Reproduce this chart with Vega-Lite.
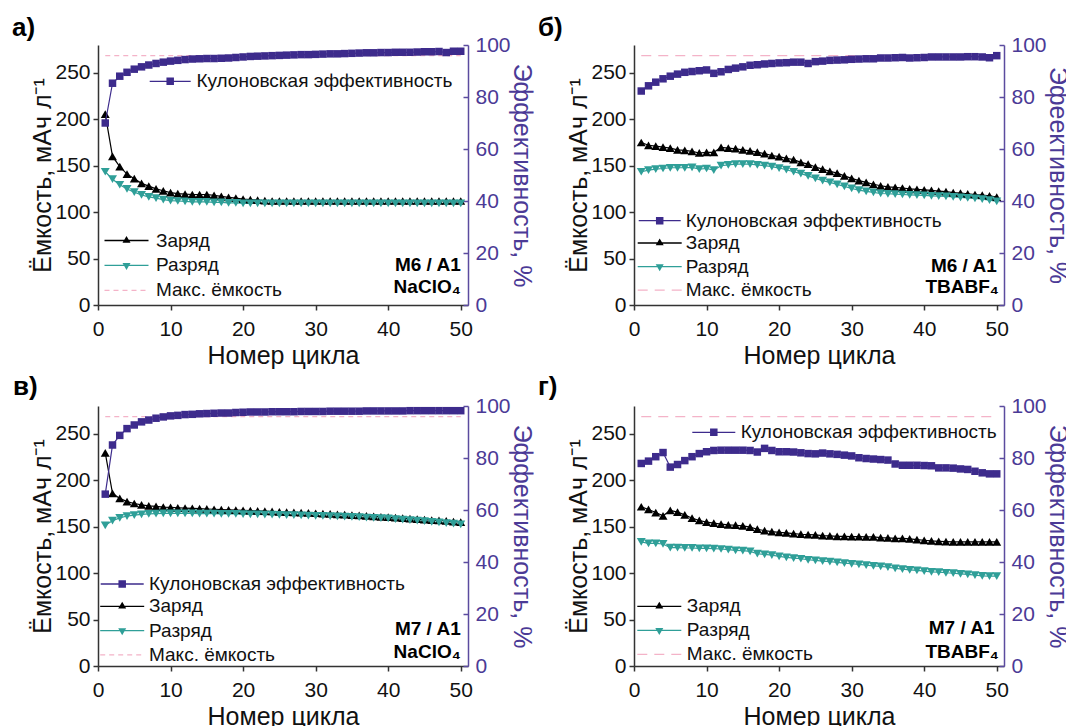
{
  "$schema": "https://vega.github.io/schema/vega-lite/v6.json",
  "padding": {"left": 12, "top": 15, "right": 0, "bottom": 0},
  "background": "white",
  "columns": 2,
  "spacing": {"row": 101, "column": 166},
  "bounds": "flush",
  "datasets": {
    "mx": [{"c": 1, "v": 268.5}, {"c": 50, "v": 268.5}],
    "cyc": [
      {"p":"a","c":1,"Заряд":205.5,"Разряд":143.5,"eff":70},
      {"p":"a","c":2,"Заряд":160,"Разряд":135.5,"eff":85.3},
      {"p":"a","c":3,"Заряд":149,"Разряд":129.5,"eff":88},
      {"p":"a","c":4,"Заряд":141,"Разряд":125,"eff":89.5},
      {"p":"a","c":5,"Заряд":136,"Разряд":121.5,"eff":90.7},
      {"p":"a","c":6,"Заряд":131,"Разряд":118.5,"eff":91.6},
      {"p":"a","c":7,"Заряд":128,"Разряд":116.5,"eff":92.3},
      {"p":"a","c":8,"Заряд":125,"Разряд":115,"eff":92.9},
      {"p":"a","c":9,"Заряд":123,"Разряд":113.5,"eff":93.4},
      {"p":"a","c":10,"Заряд":121,"Разряд":112.5,"eff":93.8},
      {"p":"a","c":11,"Заряд":120,"Разряд":112,"eff":94.1},
      {"p":"a","c":12,"Заряд":119.5,"Разряд":111.5,"eff":94.4},
      {"p":"a","c":13,"Заряд":119,"Разряд":111,"eff":94.6},
      {"p":"a","c":14,"Заряд":119,"Разряд":111,"eff":94.7},
      {"p":"a","c":15,"Заряд":119,"Разряд":111,"eff":94.8},
      {"p":"a","c":16,"Заряд":118,"Разряд":110.5,"eff":94.8},
      {"p":"a","c":17,"Заряд":117,"Разряд":110.5,"eff":94.9},
      {"p":"a","c":18,"Заряд":116,"Разряд":110,"eff":95},
      {"p":"a","c":19,"Заряд":115,"Разряд":110,"eff":95.2},
      {"p":"a","c":20,"Заряд":114,"Разряд":109.5,"eff":95.4},
      {"p":"a","c":21,"Заряд":113.5,"Разряд":109.5,"eff":95.6},
      {"p":"a","c":22,"Заряд":113,"Разряд":109.5,"eff":95.7},
      {"p":"a","c":23,"Заряд":112.5,"Разряд":109.5,"eff":95.8},
      {"p":"a","c":24,"Заряд":112,"Разряд":109.5,"eff":95.9},
      {"p":"a","c":25,"Заряд":112,"Разряд":109.5,"eff":96},
      {"p":"a","c":26,"Заряд":112,"Разряд":109.5,"eff":96.1},
      {"p":"a","c":27,"Заряд":112,"Разряд":109.5,"eff":96.2},
      {"p":"a","c":28,"Заряд":112,"Разряд":109.5,"eff":96.3},
      {"p":"a","c":29,"Заряд":112,"Разряд":109.5,"eff":96.3},
      {"p":"a","c":30,"Заряд":112,"Разряд":109.5,"eff":96.4},
      {"p":"a","c":31,"Заряд":112,"Разряд":109.5,"eff":96.5},
      {"p":"a","c":32,"Заряд":112,"Разряд":109.5,"eff":96.6},
      {"p":"a","c":33,"Заряд":112,"Разряд":109.5,"eff":96.6},
      {"p":"a","c":34,"Заряд":112,"Разряд":109.5,"eff":96.7},
      {"p":"a","c":35,"Заряд":112,"Разряд":109.5,"eff":96.8},
      {"p":"a","c":36,"Заряд":112,"Разряд":109.5,"eff":96.9},
      {"p":"a","c":37,"Заряд":112,"Разряд":109.5,"eff":97},
      {"p":"a","c":38,"Заряд":112,"Разряд":109.5,"eff":97},
      {"p":"a","c":39,"Заряд":112,"Разряд":109.5,"eff":97.1},
      {"p":"a","c":40,"Заряд":112,"Разряд":109.5,"eff":97.1},
      {"p":"a","c":41,"Заряд":112,"Разряд":109.5,"eff":97.2},
      {"p":"a","c":42,"Заряд":112,"Разряд":109.5,"eff":97.2},
      {"p":"a","c":43,"Заряд":112,"Разряд":109.5,"eff":97.2},
      {"p":"a","c":44,"Заряд":112,"Разряд":109.5,"eff":97.3},
      {"p":"a","c":45,"Заряд":112,"Разряд":109.5,"eff":97.4},
      {"p":"a","c":46,"Заряд":112,"Разряд":109.5,"eff":97.4},
      {"p":"a","c":47,"Заряд":112,"Разряд":109.5,"eff":97.5},
      {"p":"a","c":48,"Заряд":112,"Разряд":109.5,"eff":97.1},
      {"p":"a","c":49,"Заряд":112,"Разряд":109.5,"eff":97.6},
      {"p":"a","c":50,"Заряд":112,"Разряд":109.5,"eff":97.6},
      {"p":"b","c":1,"Заряд":175,"Разряд":143.5,"eff":82.3},
      {"p":"b","c":2,"Заряд":172,"Разряд":145.3,"eff":84.3},
      {"p":"b","c":3,"Заряд":171,"Разряд":146.4,"eff":85.7},
      {"p":"b","c":4,"Заряд":170,"Разряд":147,"eff":87},
      {"p":"b","c":5,"Заряд":169,"Разряд":147.8,"eff":88},
      {"p":"b","c":6,"Заряд":167,"Разряд":147.8,"eff":88.8},
      {"p":"b","c":7,"Заряд":166.5,"Разряд":147.8,"eff":89.5},
      {"p":"b","c":8,"Заряд":165.5,"Разряд":148.2,"eff":89.8},
      {"p":"b","c":9,"Заряд":163.7,"Разряд":146.4,"eff":90.1},
      {"p":"b","c":10,"Заряд":164.4,"Разряд":147,"eff":90.4},
      {"p":"b","c":11,"Заряд":164.4,"Разряд":145.3,"eff":89.1},
      {"p":"b","c":12,"Заряд":169.8,"Разряд":150,"eff":89.7},
      {"p":"b","c":13,"Заряд":169,"Разряд":151,"eff":90.6},
      {"p":"b","c":14,"Заряд":168.3,"Разряд":151.8,"eff":91.1},
      {"p":"b","c":15,"Заряд":167,"Разряд":151.8,"eff":91.6},
      {"p":"b","c":16,"Заряд":166,"Разряд":151.8,"eff":92.2},
      {"p":"b","c":17,"Заряд":164.7,"Разряд":151,"eff":92.4},
      {"p":"b","c":18,"Заряд":163,"Разряд":150,"eff":92.7},
      {"p":"b","c":19,"Заряд":161,"Разряд":149,"eff":92.9},
      {"p":"b","c":20,"Заряд":159.7,"Разряд":147.5,"eff":93.1},
      {"p":"b","c":21,"Заряд":158,"Разряд":145.7,"eff":93.2},
      {"p":"b","c":22,"Заряд":156.5,"Разряд":143.5,"eff":93.4},
      {"p":"b","c":23,"Заряд":153.6,"Разряд":141.4,"eff":93.4},
      {"p":"b","c":24,"Заряд":151.8,"Разряд":139,"eff":92.9},
      {"p":"b","c":25,"Заряд":148.6,"Разряд":136.3,"eff":93.6},
      {"p":"b","c":26,"Заряд":146.4,"Разряд":134,"eff":93.8},
      {"p":"b","c":27,"Заряд":144,"Разряд":132,"eff":94.1},
      {"p":"b","c":28,"Заряд":142,"Разряд":129.9,"eff":94.2},
      {"p":"b","c":29,"Заряд":139,"Разряд":127.7,"eff":94.3},
      {"p":"b","c":30,"Заряд":136.3,"Разряд":125.5,"eff":94.5},
      {"p":"b","c":31,"Заряд":134,"Разряд":123.7,"eff":94.6},
      {"p":"b","c":32,"Заряд":132,"Разряд":122.3,"eff":94.7},
      {"p":"b","c":33,"Заряд":130,"Разряд":121.2,"eff":94.7},
      {"p":"b","c":34,"Заряд":128.4,"Разряд":120.1,"eff":95},
      {"p":"b","c":35,"Заряд":127.3,"Разряд":119.8,"eff":95},
      {"p":"b","c":36,"Заряд":126.6,"Разряд":119.4,"eff":95.1},
      {"p":"b","c":37,"Заряд":126,"Разряд":119,"eff":95.2},
      {"p":"b","c":38,"Заряд":125,"Разряд":118.7,"eff":95},
      {"p":"b","c":39,"Заряд":124.5,"Разряд":118.3,"eff":95.1},
      {"p":"b","c":40,"Заряд":124,"Разряд":118,"eff":95.2},
      {"p":"b","c":41,"Заряд":123.4,"Разряд":117.6,"eff":95.4},
      {"p":"b","c":42,"Заряд":122.7,"Разряд":117.3,"eff":95.4},
      {"p":"b","c":43,"Заряд":122,"Разряд":116.9,"eff":95.4},
      {"p":"b","c":44,"Заряд":121,"Разряд":116.5,"eff":95.4},
      {"p":"b","c":45,"Заряд":120.5,"Разряд":115.8,"eff":95.4},
      {"p":"b","c":46,"Заряд":119.8,"Разряд":115.4,"eff":95.5},
      {"p":"b","c":47,"Заряд":119,"Разряд":114.7,"eff":95.5},
      {"p":"b","c":48,"Заряд":118.3,"Разряд":114,"eff":95.4},
      {"p":"b","c":49,"Заряд":117.6,"Разряд":113,"eff":95.1},
      {"p":"b","c":50,"Заряд":116.2,"Разряд":111.5,"eff":95.9},
      {"p":"c","c":1,"Заряд":229.5,"Разряд":151.5,"eff":66.1},
      {"p":"c","c":2,"Заряд":186,"Разряд":156.5,"eff":85},
      {"p":"c","c":3,"Заряд":180.5,"Разряд":159.5,"eff":88.7},
      {"p":"c","c":4,"Заряд":177,"Разряд":161.5,"eff":91.3},
      {"p":"c","c":5,"Заряд":175,"Разряд":162.5,"eff":92.7},
      {"p":"c","c":6,"Заряд":173.5,"Разряд":163.3,"eff":93.9},
      {"p":"c","c":7,"Заряд":172.5,"Разряд":163.8,"eff":94.6},
      {"p":"c","c":8,"Заряд":171.8,"Разряд":164.1,"eff":95.3},
      {"p":"c","c":9,"Заряд":171.2,"Разряд":164.3,"eff":95.8},
      {"p":"c","c":10,"Заряд":170.8,"Разряд":164.4,"eff":96.2},
      {"p":"c","c":11,"Заряд":170.4,"Разряд":164.4,"eff":96.4},
      {"p":"c","c":12,"Заряд":170,"Разряд":164.4,"eff":96.7},
      {"p":"c","c":13,"Заряд":169.7,"Разряд":164.3,"eff":96.8},
      {"p":"c","c":14,"Заряд":169.4,"Разряд":164.2,"eff":97},
      {"p":"c","c":15,"Заряд":169.1,"Разряд":164.1,"eff":97.1},
      {"p":"c","c":16,"Заряд":168.8,"Разряд":164,"eff":97.2},
      {"p":"c","c":17,"Заряд":168.5,"Разряд":163.9,"eff":97.3},
      {"p":"c","c":18,"Заряд":168.2,"Разряд":163.8,"eff":97.3},
      {"p":"c","c":19,"Заряд":167.9,"Разряд":163.7,"eff":97.5},
      {"p":"c","c":20,"Заряд":167.6,"Разряд":163.6,"eff":97.6},
      {"p":"c","c":21,"Заряд":167.3,"Разряд":163.4,"eff":97.7},
      {"p":"c","c":22,"Заряд":167,"Разряд":163.3,"eff":97.7},
      {"p":"c","c":23,"Заряд":166.7,"Разряд":163.1,"eff":97.7},
      {"p":"c","c":24,"Заряд":166.4,"Разряд":163,"eff":97.8},
      {"p":"c","c":25,"Заряд":166.1,"Разряд":162.8,"eff":97.8},
      {"p":"c","c":26,"Заряд":165.8,"Разряд":162.6,"eff":97.8},
      {"p":"c","c":27,"Заряд":165.5,"Разряд":162.4,"eff":97.8},
      {"p":"c","c":28,"Заряд":165.2,"Разряд":162.2,"eff":97.9},
      {"p":"c","c":29,"Заряд":164.9,"Разряд":162,"eff":97.9},
      {"p":"c","c":30,"Заряд":164.5,"Разряд":161.8,"eff":97.9},
      {"p":"c","c":31,"Заряд":164.1,"Разряд":161.6,"eff":97.9},
      {"p":"c","c":32,"Заряд":163.7,"Разряд":161.3,"eff":98},
      {"p":"c","c":33,"Заряд":163.3,"Разряд":161.1,"eff":98},
      {"p":"c","c":34,"Заряд":162.9,"Разряд":160.8,"eff":98},
      {"p":"c","c":35,"Заряд":162.5,"Разряд":160.5,"eff":98},
      {"p":"c","c":36,"Заряд":162.1,"Разряд":160.2,"eff":98},
      {"p":"c","c":37,"Заряд":161.7,"Разряд":159.9,"eff":98.1},
      {"p":"c","c":38,"Заряд":161.2,"Разряд":159.6,"eff":98.1},
      {"p":"c","c":39,"Заряд":160.7,"Разряд":159.3,"eff":98.1},
      {"p":"c","c":40,"Заряд":160.2,"Разряд":159,"eff":98.1},
      {"p":"c","c":41,"Заряд":159.7,"Разряд":158.3,"eff":98.1},
      {"p":"c","c":42,"Заряд":159.2,"Разряд":157.7,"eff":98.1},
      {"p":"c","c":43,"Заряд":158.7,"Разряд":157.1,"eff":98.2},
      {"p":"c","c":44,"Заряд":158.2,"Разряд":156.5,"eff":98.2},
      {"p":"c","c":45,"Заряд":157.7,"Разряд":155.9,"eff":98.2},
      {"p":"c","c":46,"Заряд":157.2,"Разряд":155.3,"eff":98.2},
      {"p":"c","c":47,"Заряд":156.7,"Разряд":154.6,"eff":98.2},
      {"p":"c","c":48,"Заряд":156.2,"Разряд":153.9,"eff":98.2},
      {"p":"c","c":49,"Заряд":155.6,"Разряд":153.2,"eff":98.2},
      {"p":"c","c":50,"Заряд":155,"Разряд":152.5,"eff":98.2},
      {"p":"d","c":1,"Заряд":171.5,"Разряд":133.6,"eff":77.9},
      {"p":"d","c":2,"Заряд":168.6,"Разряд":132.1,"eff":78.8},
      {"p":"d","c":3,"Заряд":165.3,"Разряд":132.1,"eff":80.5},
      {"p":"d","c":4,"Заряд":161.7,"Разряд":131.4,"eff":82.1},
      {"p":"d","c":5,"Заряд":167.5,"Разряд":127.4,"eff":76.5},
      {"p":"d","c":6,"Заряд":165.7,"Разряд":127.4,"eff":77.5},
      {"p":"d","c":7,"Заряд":162.8,"Разряд":127.1,"eff":79},
      {"p":"d","c":8,"Заряд":159.2,"Разряд":127.1,"eff":80.5},
      {"p":"d","c":9,"Заряд":156.7,"Разряд":126.7,"eff":81.7},
      {"p":"d","c":10,"Заряд":154.9,"Разряд":126.7,"eff":82.4},
      {"p":"d","c":11,"Заряд":153.8,"Разряд":126.4,"eff":82.9},
      {"p":"d","c":12,"Заряд":152.7,"Разряд":126,"eff":83},
      {"p":"d","c":13,"Заряд":152,"Разряд":125.3,"eff":83},
      {"p":"d","c":14,"Заряд":151.6,"Разряд":124.5,"eff":83},
      {"p":"d","c":15,"Заряд":150.9,"Разряд":124.2,"eff":83},
      {"p":"d","c":16,"Заряд":149.5,"Разряд":123.5,"eff":82.9},
      {"p":"d","c":17,"Заряд":147.3,"Разряд":120.9,"eff":82.3},
      {"p":"d","c":18,"Заряд":145.8,"Разряд":120.2,"eff":83.7},
      {"p":"d","c":19,"Заряд":144.8,"Разряд":119.5,"eff":82.9},
      {"p":"d","c":20,"Заряд":144,"Разряд":118,"eff":82.4},
      {"p":"d","c":21,"Заряд":143.3,"Разряд":117,"eff":82.4},
      {"p":"d","c":22,"Заряд":142.6,"Разряд":116.2,"eff":82.3},
      {"p":"d","c":23,"Заряд":141.9,"Разряд":115.5,"eff":82},
      {"p":"d","c":24,"Заряд":141.5,"Разряд":114.4,"eff":81.7},
      {"p":"d","c":25,"Заряд":141.2,"Разряд":113.7,"eff":81.6},
      {"p":"d","c":26,"Заряд":140.4,"Разряд":113,"eff":81.9},
      {"p":"d","c":27,"Заряд":140.1,"Разряд":112.3,"eff":81.6},
      {"p":"d","c":28,"Заряд":139.7,"Разряд":111.6,"eff":81.4},
      {"p":"d","c":29,"Заряд":139.7,"Разряд":110.8,"eff":81.1},
      {"p":"d","c":30,"Заряд":139.4,"Разряд":110.1,"eff":80.8},
      {"p":"d","c":31,"Заряд":139.4,"Разряд":109.4,"eff":80.1},
      {"p":"d","c":32,"Заряд":139,"Разряд":108.7,"eff":79.8},
      {"p":"d","c":33,"Заряд":139,"Разряд":107.9,"eff":79.6},
      {"p":"d","c":34,"Заряд":138.3,"Разряд":107.2,"eff":79.4},
      {"p":"d","c":35,"Заряд":137.9,"Разряд":106.5,"eff":79.2},
      {"p":"d","c":36,"Заряд":137.5,"Разряд":105.1,"eff":77.7},
      {"p":"d","c":37,"Заряд":137.5,"Разряд":104.3,"eff":77.2},
      {"p":"d","c":38,"Заряд":136.8,"Разряд":103.6,"eff":77.2},
      {"p":"d","c":39,"Заряд":136.1,"Разряд":102.9,"eff":77.2},
      {"p":"d","c":40,"Заряд":135.4,"Разряд":102.2,"eff":77.1},
      {"p":"d","c":41,"Заряд":134.7,"Разряд":101.4,"eff":77},
      {"p":"d","c":42,"Заряд":134.3,"Разряд":101.1,"eff":76.2},
      {"p":"d","c":43,"Заряд":133.9,"Разряд":100.4,"eff":76.2},
      {"p":"d","c":44,"Заряд":133.6,"Разряд":100,"eff":76.1},
      {"p":"d","c":45,"Заряд":133.6,"Разряд":99.3,"eff":75.8},
      {"p":"d","c":46,"Заряд":133.6,"Разряд":98.6,"eff":75.6},
      {"p":"d","c":47,"Заряд":133.6,"Разряд":97.8,"eff":74.9},
      {"p":"d","c":48,"Заряд":133.6,"Разряд":97.1,"eff":74.3},
      {"p":"d","c":49,"Заряд":133.6,"Разряд":96.8,"eff":73.9},
      {"p":"d","c":50,"Заряд":133.6,"Разряд":96.8,"eff":73.9}
    ]
  },
  "concat": [
    {
      "width": 370, "height": 260,
      "title": {"text": "а)", "anchor": "start", "frame": "group", "dx": -86, "offset": -28, "baseline": "alphabetic", "fontSize": 26, "fontWeight": "bold", "font": "Liberation Sans", "color": "#000000"},
      "layer": [
        {"layer": [
          {"data": {"name": "cyc"},
           "transform": [{"filter": "datum.p === 'a'"}, {"fold": ["Заряд", "Разряд"], "as": ["series", "value"]}],
           "mark": {"type": "line", "strokeWidth": 1.2},
           "encoding": {
             "x": {"field": "c", "type": "quantitative", "scale": {"domain": [0, 51], "nice": false},
                   "axis": {"values": [0,5,10,15,20,25,30,35,40,45,50], "labelExpr": "datum.value % 10 === 0 ? datum.label : ''", "tickSize": 5, "labelPadding": 8, "title": "Номер цикла", "titlePadding": 4}},
             "y": {"field": "value", "type": "quantitative", "scale": {"domain": [0, 280], "nice": false},
                   "axis": {"orient": "left", "values": [0,25,50,75,100,125,150,175,200,225,250,275], "labelExpr": "datum.value % 50 === 0 ? datum.label : ''", "tickSize": 5, "labelPadding": 3, "title": "Ёмкость, мАч л⁻¹", "titlePadding": -1}},
             "color": {"field": "series", "type": "nominal", "scale": {"domain": ["Заряд", "Разряд", "Макс. ёмкость"], "range": ["#000000", "#2F9F98", "#F4B3C8"]},
                       "legend": {"title": null, "orient": "none", "legendX": 19, "legendY": 186, "rowPadding": 4.9, "labelOffset": 20,
                                  "encode": {"symbols": {"update": {
                                    "shape": {"signal": "datum.value === 'Заряд' ? 'M-4.4,-0.13H4.4V0.13H-4.4ZM0,-0.92L0.8,0.46H-0.8Z' : datum.value === 'Разряд' ? 'M-4.4,-0.13H4.4V0.13H-4.4ZM-0.8,-0.46H0.8L0,0.92Z' : 'M-4.4,-0.12H-3.4V0.12H-4.4ZM-2.6,-0.12H-1.6V0.12H-2.6ZM-0.8,-0.12H0.2V0.12H-0.8ZM1,-0.12H2V0.12H1ZM2.8,-0.12H3.8V0.12H2.8Z'"},
                                    "fill": {"signal": "datum.value === 'Заряд' ? '#000000' : datum.value === 'Разряд' ? '#2F9F98' : '#F4B3C8'"},
                                    "stroke": {"value": "transparent"}, "opacity": {"value": 1}, "fillOpacity": {"value": 1}}}}}}
           }},
          {"data": {"name": "cyc"},
           "transform": [{"filter": "datum.p === 'a'"}, {"fold": ["Заряд", "Разряд"], "as": ["series", "value"]}],
           "mark": {"type": "point", "filled": true, "size": 80, "opacity": 1},
           "encoding": {
             "x": {"field": "c", "type": "quantitative"},
             "y": {"field": "value", "type": "quantitative"},
             "color": {"field": "series", "type": "nominal"},
             "shape": {"field": "series", "type": "nominal", "scale": {"domain": ["Заряд", "Разряд"], "range": ["triangle-up", "triangle-down"]}, "legend": null}
           }},
          {"data": {"name": "mx"},
           "mark": {"type": "line", "strokeWidth": 1.2, "strokeDash": [5, 4]},
           "encoding": {
             "x": {"field": "c", "type": "quantitative"},
             "y": {"field": "v", "type": "quantitative"},
             "color": {"datum": "Макс. ёмкость", "type": "nominal"}
           }},
          {"data": {"values": [{"label": "M6 / A1"}]},
           "mark": {"type": "text", "align": "right", "baseline": "middle", "fontSize": 19, "fontWeight": "bold", "font": "Liberation Sans", "color": "#000000"},
           "encoding": {"x": {"datum": 50, "type": "quantitative"}, "y": {"datum": 43, "type": "quantitative"}, "text": {"field": "label"}}},
          {"data": {"values": [{"label": "NaClO₄"}]},
           "mark": {"type": "text", "align": "right", "baseline": "middle", "fontSize": 19, "fontWeight": "bold", "font": "Liberation Sans", "color": "#000000"},
           "encoding": {"x": {"datum": 50, "type": "quantitative"}, "y": {"datum": 19, "type": "quantitative"}, "text": {"field": "label"}}}
        ]},
        {"data": {"name": "cyc"},
         "transform": [{"filter": "datum.p === 'a'"}],
         "layer": [
           {"mark": {"type": "line", "strokeWidth": 1.2},
            "encoding": {
              "x": {"field": "c", "type": "quantitative"},
              "y": {"field": "eff", "type": "quantitative", "scale": {"domain": [0, 100], "nice": false},
                    "axis": {"orient": "right", "values": [0,10,20,30,40,50,60,70,80,90,100], "labelExpr": "datum.value % 20 === 0 ? datum.label : ''", "tickSize": -5, "labelPadding": 12, "domainColor": "#5B4B9F", "tickColor": "#5B4B9F", "labelColor": "#4B3A96", "titleColor": "#4B3A96", "title": "Эффективность, %", "titlePadding": -2}},
              "color": {"datum": "Кулоновская эффективность", "type": "nominal", "scale": {"domain": ["Кулоновская эффективность"], "range": ["#3D2B8C"]},
                        "legend": {"title": null, "orient": "none", "legendX": 62.7, "legendY": 26.8, "labelOffset": 16.7,
                                   "encode": {"symbols": {"update": {"shape": {"value": "M-4.1,-0.13H4.1V0.13H-4.1ZM-0.75,-0.75H0.75V0.75H-0.75Z"}, "fill": {"value": "#3D2B8C"}, "stroke": {"value": "transparent"}, "opacity": {"value": 1}, "fillOpacity": {"value": 1}}}}}}
            }},
           {"mark": {"type": "point", "shape": "square", "filled": true, "size": 56, "opacity": 1},
            "encoding": {
              "x": {"field": "c", "type": "quantitative"},
              "y": {"field": "eff", "type": "quantitative"},
              "color": {"datum": "Кулоновская эффективность", "type": "nominal"}
            }}
         ]}
      ],
      "resolve": {"scale": {"y": "independent", "color": "independent"}}
    },
    {
      "width": 370, "height": 260,
      "title": {"text": "б)", "anchor": "start", "frame": "group", "dx": -96, "offset": -28, "baseline": "alphabetic", "fontSize": 26, "fontWeight": "bold", "font": "Liberation Sans", "color": "#000000"},
      "layer": [
        {"layer": [
          {"data": {"name": "cyc"},
           "transform": [{"filter": "datum.p === 'b'"}, {"fold": ["Заряд", "Разряд"], "as": ["series", "value"]}],
           "mark": {"type": "line", "strokeWidth": 1.2},
           "encoding": {
             "x": {"field": "c", "type": "quantitative", "scale": {"domain": [0, 51], "nice": false},
                   "axis": {"values": [0,5,10,15,20,25,30,35,40,45,50], "labelExpr": "datum.value % 10 === 0 ? datum.label : ''", "tickSize": 5, "labelPadding": 8, "title": "Номер цикла", "titlePadding": 4}},
             "y": {"field": "value", "type": "quantitative", "scale": {"domain": [0, 280], "nice": false},
                   "axis": {"orient": "left", "values": [0,25,50,75,100,125,150,175,200,225,250,275], "labelExpr": "datum.value % 50 === 0 ? datum.label : ''", "tickSize": 5, "labelPadding": 3, "title": "Ёмкость, мАч л⁻¹", "titlePadding": -1}},
             "color": {"field": "series", "type": "nominal", "scale": {"domain": ["Заряд", "Разряд", "Макс. ёмкость"], "range": ["#000000", "#2F9F98", "#F4B3C8"]},
                       "legend": {"title": null, "orient": "none", "legendX": 16.2, "legendY": 188.5, "rowPadding": 3.6, "labelOffset": 16.5,
                                  "encode": {"symbols": {"update": {
                                    "shape": {"signal": "datum.value === 'Заряд' ? 'M-4.4,-0.13H4.4V0.13H-4.4ZM0,-0.92L0.8,0.46H-0.8Z' : datum.value === 'Разряд' ? 'M-4.4,-0.13H4.4V0.13H-4.4ZM-0.8,-0.46H0.8L0,0.92Z' : 'M-4.4,-0.12H-2.4V0.12H-4.4ZM-1,-0.12H1V0.12H-1ZM2.4,-0.12H4.4V0.12H2.4Z'"},
                                    "fill": {"signal": "datum.value === 'Заряд' ? '#000000' : datum.value === 'Разряд' ? '#2F9F98' : '#F4B3C8'"},
                                    "stroke": {"value": "transparent"}, "opacity": {"value": 1}, "fillOpacity": {"value": 1}}}}}}
           }},
          {"data": {"name": "cyc"},
           "transform": [{"filter": "datum.p === 'b'"}, {"fold": ["Заряд", "Разряд"], "as": ["series", "value"]}],
           "mark": {"type": "point", "filled": true, "size": 80, "opacity": 1},
           "encoding": {
             "x": {"field": "c", "type": "quantitative"},
             "y": {"field": "value", "type": "quantitative"},
             "color": {"field": "series", "type": "nominal"},
             "shape": {"field": "series", "type": "nominal", "scale": {"domain": ["Заряд", "Разряд"], "range": ["triangle-up", "triangle-down"]}, "legend": null}
           }},
          {"data": {"name": "mx"},
           "mark": {"type": "line", "strokeWidth": 1.2, "strokeDash": [10, 7]},
           "encoding": {
             "x": {"field": "c", "type": "quantitative"},
             "y": {"field": "v", "type": "quantitative"},
             "color": {"datum": "Макс. ёмкость", "type": "nominal"}
           }},
          {"data": {"values": [{"label": "M6 / A1"}]},
           "mark": {"type": "text", "align": "right", "baseline": "middle", "fontSize": 19, "fontWeight": "bold", "font": "Liberation Sans", "color": "#000000"},
           "encoding": {"x": {"datum": 50, "type": "quantitative"}, "y": {"datum": 42.3, "type": "quantitative"}, "text": {"field": "label"}}},
          {"data": {"values": [{"label": "TBABF₄"}]},
           "mark": {"type": "text", "align": "right", "baseline": "middle", "fontSize": 19, "fontWeight": "bold", "font": "Liberation Sans", "color": "#000000"},
           "encoding": {"x": {"datum": 50.3, "type": "quantitative"}, "y": {"datum": 19.4, "type": "quantitative"}, "text": {"field": "label"}}}
        ]},
        {"data": {"name": "cyc"},
         "transform": [{"filter": "datum.p === 'b'"}],
         "layer": [
           {"mark": {"type": "line", "strokeWidth": 1.2},
            "encoding": {
              "x": {"field": "c", "type": "quantitative"},
              "y": {"field": "eff", "type": "quantitative", "scale": {"domain": [0, 100], "nice": false},
                    "axis": {"orient": "right", "values": [0,10,20,30,40,50,60,70,80,90,100], "labelExpr": "datum.value % 20 === 0 ? datum.label : ''", "tickSize": -5, "labelPadding": 12, "domainColor": "#5B4B9F", "tickColor": "#5B4B9F", "labelColor": "#4B3A96", "titleColor": "#4B3A96", "title": "Эфеективность, %", "titlePadding": -2}},
              "color": {"datum": "Кулоновская эффективность", "type": "nominal", "scale": {"domain": ["Кулоновская эффективность"], "range": ["#3D2B8C"]},
                        "legend": {"title": null, "orient": "none", "legendX": 16.2, "legendY": 166.2, "labelOffset": 16.5,
                                   "encode": {"symbols": {"update": {"shape": {"value": "M-4.2,-0.13H4.2V0.13H-4.2ZM-0.75,-0.75H0.75V0.75H-0.75Z"}, "fill": {"value": "#3D2B8C"}, "stroke": {"value": "transparent"}, "opacity": {"value": 1}, "fillOpacity": {"value": 1}}}}}}
            }},
           {"mark": {"type": "point", "shape": "square", "filled": true, "size": 56, "opacity": 1},
            "encoding": {
              "x": {"field": "c", "type": "quantitative"},
              "y": {"field": "eff", "type": "quantitative"},
              "color": {"datum": "Кулоновская эффективность", "type": "nominal"}
            }}
         ]}
      ],
      "resolve": {"scale": {"y": "independent", "color": "independent"}}
    },
    {
      "width": 370, "height": 260,
      "title": {"text": "в)", "anchor": "start", "frame": "group", "dx": -85, "offset": -26, "baseline": "alphabetic", "fontSize": 26, "fontWeight": "bold", "font": "Liberation Sans", "color": "#000000"},
      "layer": [
        {"layer": [
          {"data": {"name": "cyc"},
           "transform": [{"filter": "datum.p === 'c'"}, {"fold": ["Заряд", "Разряд"], "as": ["series", "value"]}],
           "mark": {"type": "line", "strokeWidth": 1.2},
           "encoding": {
             "x": {"field": "c", "type": "quantitative", "scale": {"domain": [0, 51], "nice": false},
                   "axis": {"values": [0,5,10,15,20,25,30,35,40,45,50], "labelExpr": "datum.value % 10 === 0 ? datum.label : ''", "tickSize": 5, "labelPadding": 8, "title": "Номер цикла", "titlePadding": 4}},
             "y": {"field": "value", "type": "quantitative", "scale": {"domain": [0, 280], "nice": false},
                   "axis": {"orient": "left", "values": [0,25,50,75,100,125,150,175,200,225,250,275], "labelExpr": "datum.value % 50 === 0 ? datum.label : ''", "tickSize": 5, "labelPadding": 3, "title": "Ёмкость, мАч л⁻¹", "titlePadding": -1}},
             "color": {"field": "series", "type": "nominal", "scale": {"domain": ["Заряд", "Разряд", "Макс. ёмкость"], "range": ["#000000", "#2F9F98", "#F4B3C8"]},
                       "legend": {"title": null, "orient": "none", "legendX": 14.7, "legendY": 190.8, "rowPadding": 4.3, "labelOffset": 17.3,
                                  "encode": {"symbols": {"update": {
                                    "shape": {"signal": "datum.value === 'Заряд' ? 'M-4.4,-0.13H4.4V0.13H-4.4ZM0,-0.92L0.8,0.46H-0.8Z' : datum.value === 'Разряд' ? 'M-4.4,-0.13H4.4V0.13H-4.4ZM-0.8,-0.46H0.8L0,0.92Z' : 'M-4.4,-0.12H-3.4V0.12H-4.4ZM-2.6,-0.12H-1.6V0.12H-2.6ZM-0.8,-0.12H0.2V0.12H-0.8ZM1,-0.12H2V0.12H1ZM2.8,-0.12H3.8V0.12H2.8Z'"},
                                    "fill": {"signal": "datum.value === 'Заряд' ? '#000000' : datum.value === 'Разряд' ? '#2F9F98' : '#F4B3C8'"},
                                    "stroke": {"value": "transparent"}, "opacity": {"value": 1}, "fillOpacity": {"value": 1}}}}}}
           }},
          {"data": {"name": "cyc"},
           "transform": [{"filter": "datum.p === 'c'"}, {"fold": ["Заряд", "Разряд"], "as": ["series", "value"]}],
           "mark": {"type": "point", "filled": true, "size": 80, "opacity": 1},
           "encoding": {
             "x": {"field": "c", "type": "quantitative"},
             "y": {"field": "value", "type": "quantitative"},
             "color": {"field": "series", "type": "nominal"},
             "shape": {"field": "series", "type": "nominal", "scale": {"domain": ["Заряд", "Разряд"], "range": ["triangle-up", "triangle-down"]}, "legend": null}
           }},
          {"data": {"name": "mx"},
           "mark": {"type": "line", "strokeWidth": 1.2, "strokeDash": [5, 4]},
           "encoding": {
             "x": {"field": "c", "type": "quantitative"},
             "y": {"field": "v", "type": "quantitative"},
             "color": {"datum": "Макс. ёмкость", "type": "nominal"}
           }},
          {"data": {"values": [{"label": "M7 / A1"}]},
           "mark": {"type": "text", "align": "right", "baseline": "middle", "fontSize": 19, "fontWeight": "bold", "font": "Liberation Sans", "color": "#000000"},
           "encoding": {"x": {"datum": 50, "type": "quantitative"}, "y": {"datum": 39.8, "type": "quantitative"}, "text": {"field": "label"}}},
          {"data": {"values": [{"label": "NaClO₄"}]},
           "mark": {"type": "text", "align": "right", "baseline": "middle", "fontSize": 19, "fontWeight": "bold", "font": "Liberation Sans", "color": "#000000"},
           "encoding": {"x": {"datum": 50, "type": "quantitative"}, "y": {"datum": 15.4, "type": "quantitative"}, "text": {"field": "label"}}}
        ]},
        {"data": {"name": "cyc"},
         "transform": [{"filter": "datum.p === 'c'"}],
         "layer": [
           {"mark": {"type": "line", "strokeWidth": 1.2},
            "encoding": {
              "x": {"field": "c", "type": "quantitative"},
              "y": {"field": "eff", "type": "quantitative", "scale": {"domain": [0, 100], "nice": false},
                    "axis": {"orient": "right", "values": [0,10,20,30,40,50,60,70,80,90,100], "labelExpr": "datum.value % 20 === 0 ? datum.label : ''", "tickSize": -5, "labelPadding": 12, "domainColor": "#5B4B9F", "tickColor": "#5B4B9F", "labelColor": "#4B3A96", "titleColor": "#4B3A96", "title": "Эффективность, %", "titlePadding": -2}},
              "color": {"datum": "Кулоновская эффективность", "type": "nominal", "scale": {"domain": ["Кулоновская эффективность"], "range": ["#3D2B8C"]},
                        "legend": {"title": null, "orient": "none", "legendX": 14.7, "legendY": 168.5, "labelOffset": 17.3,
                                   "encode": {"symbols": {"update": {"shape": {"value": "M-4.3,-0.13H4.3V0.13H-4.3ZM-0.75,-0.75H0.75V0.75H-0.75Z"}, "fill": {"value": "#3D2B8C"}, "stroke": {"value": "transparent"}, "opacity": {"value": 1}, "fillOpacity": {"value": 1}}}}}}
            }},
           {"mark": {"type": "point", "shape": "square", "filled": true, "size": 56, "opacity": 1},
            "encoding": {
              "x": {"field": "c", "type": "quantitative"},
              "y": {"field": "eff", "type": "quantitative"},
              "color": {"datum": "Кулоновская эффективность", "type": "nominal"}
            }}
         ]}
      ],
      "resolve": {"scale": {"y": "independent", "color": "independent"}}
    },
    {
      "width": 370, "height": 260,
      "title": {"text": "г)", "anchor": "start", "frame": "group", "dx": -96, "offset": -26, "baseline": "alphabetic", "fontSize": 26, "fontWeight": "bold", "font": "Liberation Sans", "color": "#000000"},
      "layer": [
        {"layer": [
          {"data": {"name": "cyc"},
           "transform": [{"filter": "datum.p === 'd'"}, {"fold": ["Заряд", "Разряд"], "as": ["series", "value"]}],
           "mark": {"type": "line", "strokeWidth": 1.2},
           "encoding": {
             "x": {"field": "c", "type": "quantitative", "scale": {"domain": [0, 51], "nice": false},
                   "axis": {"values": [0,5,10,15,20,25,30,35,40,45,50], "labelExpr": "datum.value % 10 === 0 ? datum.label : ''", "tickSize": 5, "labelPadding": 8, "title": "Номер цикла", "titlePadding": 4}},
             "y": {"field": "value", "type": "quantitative", "scale": {"domain": [0, 280], "nice": false},
                   "axis": {"orient": "left", "values": [0,25,50,75,100,125,150,175,200,225,250,275], "labelExpr": "datum.value % 50 === 0 ? datum.label : ''", "tickSize": 5, "labelPadding": 3, "title": "Ёмкость, мАч л⁻¹", "titlePadding": -1}},
             "color": {"field": "series", "type": "nominal", "scale": {"domain": ["Заряд", "Разряд", "Макс. ёмкость"], "range": ["#000000", "#2F9F98", "#F4B3C8"]},
                       "legend": {"title": null, "orient": "none", "legendX": 15.8, "legendY": 190.8, "rowPadding": 4, "labelOffset": 18,
                                  "encode": {"symbols": {"update": {
                                    "shape": {"signal": "datum.value === 'Заряд' ? 'M-4.4,-0.13H4.4V0.13H-4.4ZM0,-0.92L0.8,0.46H-0.8Z' : datum.value === 'Разряд' ? 'M-4.4,-0.13H4.4V0.13H-4.4ZM-0.8,-0.46H0.8L0,0.92Z' : 'M-4.4,-0.12H-2.4V0.12H-4.4ZM-1,-0.12H1V0.12H-1ZM2.4,-0.12H4.4V0.12H2.4Z'"},
                                    "fill": {"signal": "datum.value === 'Заряд' ? '#000000' : datum.value === 'Разряд' ? '#2F9F98' : '#F4B3C8'"},
                                    "stroke": {"value": "transparent"}, "opacity": {"value": 1}, "fillOpacity": {"value": 1}}}}}}
           }},
          {"data": {"name": "cyc"},
           "transform": [{"filter": "datum.p === 'd'"}, {"fold": ["Заряд", "Разряд"], "as": ["series", "value"]}],
           "mark": {"type": "point", "filled": true, "size": 80, "opacity": 1},
           "encoding": {
             "x": {"field": "c", "type": "quantitative"},
             "y": {"field": "value", "type": "quantitative"},
             "color": {"field": "series", "type": "nominal"},
             "shape": {"field": "series", "type": "nominal", "scale": {"domain": ["Заряд", "Разряд"], "range": ["triangle-up", "triangle-down"]}, "legend": null}
           }},
          {"data": {"name": "mx"},
           "mark": {"type": "line", "strokeWidth": 1.2, "strokeDash": [10, 7]},
           "encoding": {
             "x": {"field": "c", "type": "quantitative"},
             "y": {"field": "v", "type": "quantitative"},
             "color": {"datum": "Макс. ёмкость", "type": "nominal"}
           }},
          {"data": {"values": [{"label": "M7 / A1"}]},
           "mark": {"type": "text", "align": "right", "baseline": "middle", "fontSize": 19, "fontWeight": "bold", "font": "Liberation Sans", "color": "#000000"},
           "encoding": {"x": {"datum": 49.7, "type": "quantitative"}, "y": {"datum": 40.5, "type": "quantitative"}, "text": {"field": "label"}}},
          {"data": {"values": [{"label": "TBABF₄"}]},
           "mark": {"type": "text", "align": "right", "baseline": "middle", "fontSize": 19, "fontWeight": "bold", "font": "Liberation Sans", "color": "#000000"},
           "encoding": {"x": {"datum": 50.3, "type": "quantitative"}, "y": {"datum": 15.4, "type": "quantitative"}, "text": {"field": "label"}}}
        ]},
        {"data": {"name": "cyc"},
         "transform": [{"filter": "datum.p === 'd'"}],
         "layer": [
           {"mark": {"type": "line", "strokeWidth": 1.2},
            "encoding": {
              "x": {"field": "c", "type": "quantitative"},
              "y": {"field": "eff", "type": "quantitative", "scale": {"domain": [0, 100], "nice": false},
                    "axis": {"orient": "right", "values": [0,10,20,30,40,50,60,70,80,90,100], "labelExpr": "datum.value % 20 === 0 ? datum.label : ''", "tickSize": -5, "labelPadding": 12, "domainColor": "#5B4B9F", "tickColor": "#5B4B9F", "labelColor": "#4B3A96", "titleColor": "#4B3A96", "title": "Эффективность, %", "titlePadding": -2}},
              "color": {"datum": "Кулоновская эффективность", "type": "nominal", "scale": {"domain": ["Кулоновская эффективность"], "range": ["#3D2B8C"]},
                        "legend": {"title": null, "orient": "none", "legendX": 70.3, "legendY": 16.8, "labelOffset": 17.4,
                                   "encode": {"symbols": {"update": {"shape": {"value": "M-4.3,-0.13H4.3V0.13H-4.3ZM-0.75,-0.75H0.75V0.75H-0.75Z"}, "fill": {"value": "#3D2B8C"}, "stroke": {"value": "transparent"}, "opacity": {"value": 1}, "fillOpacity": {"value": 1}}}}}}
            }},
           {"mark": {"type": "point", "shape": "square", "filled": true, "size": 56, "opacity": 1},
            "encoding": {
              "x": {"field": "c", "type": "quantitative"},
              "y": {"field": "eff", "type": "quantitative"},
              "color": {"datum": "Кулоновская эффективность", "type": "nominal"}
            }}
         ]}
      ],
      "resolve": {"scale": {"y": "independent", "color": "independent"}}
    }
  ],
  "config": {
    "view": {"stroke": null},
    "font": "Liberation Sans",
    "axis": {"labelFont": "Liberation Sans", "titleFont": "Liberation Sans", "labelFontSize": 21, "titleFontSize": 25, "titleFontWeight": "normal", "grid": false, "domainWidth": 1.5, "tickWidth": 1.5, "labelColor": "#111111", "titleColor": "#111111", "domainColor": "#333333", "tickColor": "#333333", "labelFlush": false, "labelOverlap": false},
    "legend": {"labelFont": "Liberation Sans", "labelFontSize": 19, "labelColor": "#111111", "labelLimit": 500, "symbolSize": 100, "symbolStrokeWidth": 0, "padding": 0, "rowPadding": 4}
  }
}
